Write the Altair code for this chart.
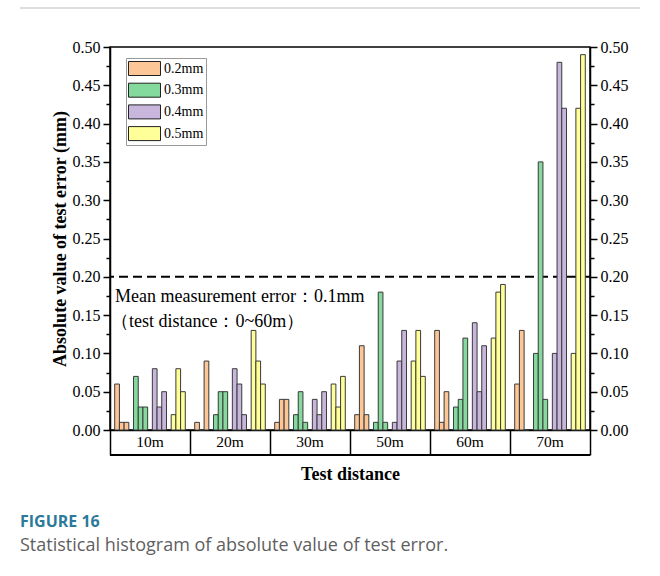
import altair as alt
import pandas as pd

groups = ["10m", "20m", "30m", "50m", "60m", "70m"]
series = ["0.2mm", "0.3mm", "0.4mm", "0.5mm"]
colors = ["#FDC696", "#84D99C", "#C9B6DD", "#FFFF99"]

# three measurements per series per test distance
v_02 = [[0.06, 0.01, 0.01], [0.01, 0.00, 0.09], [0.01, 0.04, 0.04],
        [0.02, 0.11, 0.02], [0.13, 0.01, 0.05], [0.06, 0.13, 0.00]]
v_03 = [[0.07, 0.03, 0.03], [0.02, 0.05, 0.05], [0.02, 0.05, 0.01],
        [0.01, 0.18, 0.01], [0.03, 0.04, 0.12], [0.10, 0.35, 0.04]]
v_04 = [[0.08, 0.03, 0.05], [0.08, 0.06, 0.02], [0.04, 0.02, 0.05],
        [0.01, 0.09, 0.13], [0.14, 0.05, 0.11], [0.10, 0.48, 0.42]]
v_05 = [[0.02, 0.08, 0.05], [0.13, 0.09, 0.06], [0.06, 0.03, 0.07],
        [0.09, 0.13, 0.07], [0.12, 0.18, 0.19], [0.10, 0.42, 0.49]]

mean_line = [0.20]
annot_lines = ["Mean measurement error：0.1mm", "（test distance：0~60m）"]
caption_title = "FIGURE 16"
caption_text = "Statistical histogram of absolute value of test error."

SLOTS = 17  # gap + 4*(3 bars + gap)
rows = []
for g, grp in enumerate(groups):
    for s, (name, vals) in enumerate(zip(series, [v_02, v_03, v_04, v_05])):
        for k, v in enumerate(vals[g]):
            start = g * SLOTS + 1 + s * 4 + k
            rows.append(dict(group=grp, series=name, x=start, x2=start + 1, value=v))
df = pd.DataFrame(rows)
gdf = pd.DataFrame({"group": groups, "cx": [g * SLOTS + SLOTS / 2 for g in range(len(groups))]})

W, H = 480, 383
serif = "Liberation Serif"
xscale = alt.Scale(domain=[0, SLOTS * len(groups)], nice=False, zero=False)
yscale = alt.Scale(domain=[0, 0.5], nice=False)
cscale = alt.Scale(domain=series, range=colors)

yvals = [round(i * 0.025, 3) for i in range(21)]
label_expr = "round(datum.value*1000) % 50 === 0 ? format(datum.value, '.2f') : ''"
tick_size = {"condition": {"test": "round(datum.value*1000) % 50 !== 0", "value": 4}, "value": 7}

left_axis = alt.Axis(values=yvals, labelExpr=label_expr, tickSize=tick_size, orient="left",
                     title="Absolute value of test error (mm)", titlePadding=3, labelPadding=3)
right_axis = alt.Axis(values=yvals, labelExpr=label_expr, tickSize=tick_size, orient="right",
                      title=None, labelPadding=3)
x_axis = alt.Axis(values=[g * SLOTS for g in range(len(groups) + 1)], labels=False,
                  tickSize=25, title="Test distance", titlePadding=10)

rule = alt.Chart(pd.DataFrame({"y": mean_line})).mark_rule(
    color="black", strokeWidth=2, strokeDash=[9, 5]
).encode(y=alt.Y("y:Q", scale=yscale, axis=None))

bars = alt.Chart(df).mark_bar(stroke="#3a3a3a", strokeWidth=1).encode(
    x=alt.X("x:Q", scale=xscale, axis=x_axis),
    x2="x2:Q",
    y=alt.Y("value:Q", scale=yscale, axis=left_axis),
    y2=alt.datum(0),
    color=alt.Color("series:N", scale=cscale, legend=alt.Legend(
        title=None, orient="none", legendX=16, legendY=11,
        strokeColor="#999", fillColor="white", padding=2,
        symbolType="M-1,-0.875L3,-0.875L3,0.875L-1,0.875Z", symbolSize=256,
        symbolStrokeColor="#222", symbolStrokeWidth=1, symbolOpacity=1,
        labelFont=serif, labelFontSize=14, labelColor="black", rowPadding=2.7,
        labelOffset=19)),
)

right = alt.Chart(df).mark_bar(opacity=0).encode(
    x=alt.X("x:Q", scale=xscale, axis=x_axis),
    x2="x2:Q",
    y=alt.Y("value:Q", scale=yscale, axis=right_axis),
    y2=alt.datum(0),
)

glabels = alt.Chart(gdf).mark_text(font=serif, fontSize=15.5, color="black", baseline="middle").encode(
    x=alt.X("cx:Q", scale=xscale, axis=x_axis), y=alt.value(H + 12), text="group:N")

bottom_line = alt.Chart(gdf).mark_rule(color="black", strokeWidth=1.5).encode(
    x=alt.value(0), x2=alt.value(W), y=alt.value(H + 25))

adf = pd.DataFrame({"t": annot_lines, "i": [0, 1]})
annot1 = alt.Chart(adf).mark_text(font=serif, fontSize=18, color="black", align="left",
                                  baseline="alphabetic").encode(
    x=alt.value(5), y=alt.value(255), text="t:N").transform_filter("datum.i == 0")
annot2 = alt.Chart(adf).mark_text(font=serif, fontSize=18, color="black", align="left",
                                  baseline="alphabetic").encode(
    x=alt.value(1), y=alt.value(280), text="t:N").transform_filter("datum.i == 1")

cap1 = alt.Chart(pd.DataFrame({"t": [caption_title]})).mark_text(
    font="Open Sans", fontSize=16, fontWeight="bold", color="#2B7A99", align="left", baseline="middle"
).encode(x=alt.value(-90), y=alt.value(475), text="t:N")
cap2 = alt.Chart(pd.DataFrame({"t": [caption_text]})).mark_text(
    font="Open Sans", fontSize=18, color="#5f5f5f", align="left", baseline="middle"
).encode(x=alt.value(-90), y=alt.value(499), text="t:N")
top_line = alt.Chart(gdf).mark_rule(color="#dddddd", strokeWidth=1).encode(
    x=alt.value(-90), x2=alt.value(530), y=alt.value(-39))

chart = alt.layer(rule, bars, right, glabels, bottom_line, annot1, annot2,
                  cap1, cap2, top_line).resolve_axis(y="independent").properties(
    width=W, height=H, autosize="none",
    padding={"left": 110, "top": 47, "right": 70, "bottom": 146},
).configure_view(stroke="black", strokeWidth=1.5).configure_axis(
    labelFont=serif, labelFontSize=16, labelColor="black",
    titleFont=serif, titleFontSize=18, titleFontWeight="bold", titleColor="black",
    domainColor="black", domainWidth=1.5, tickColor="black", tickWidth=1.5, grid=False,
)

chart.save("out.html", embed_options={"renderer": "svg", "actions": False})
